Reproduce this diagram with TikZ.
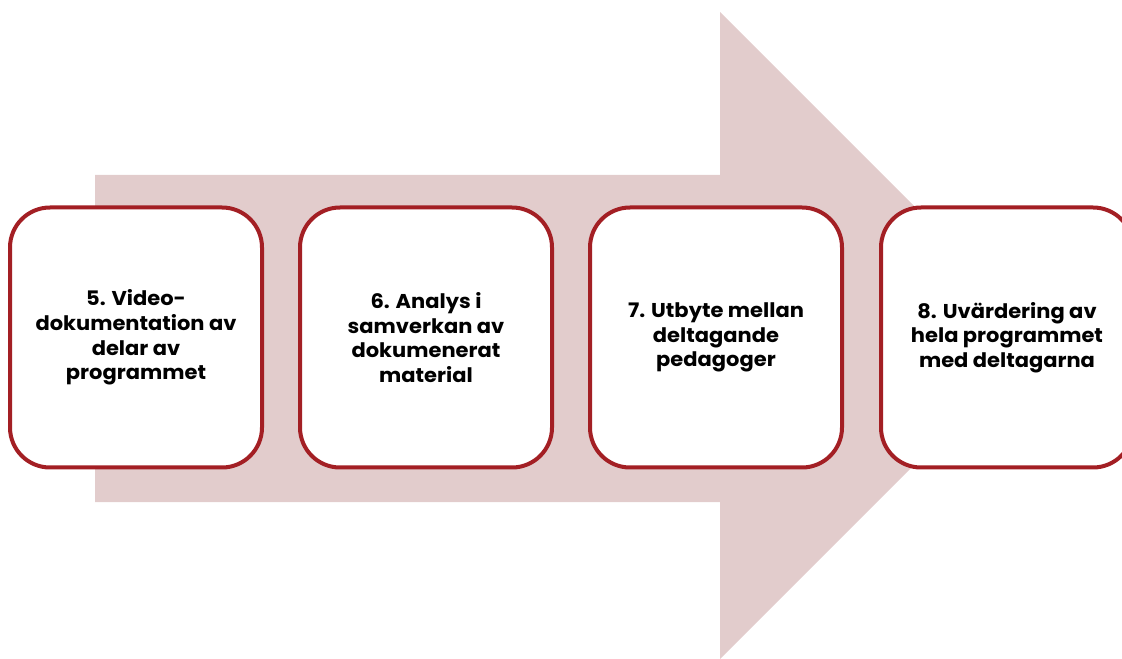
\documentclass[tikz,border=0pt]{standalone}
\usepackage{fontspec}
\setmainfont{Poppins}[FakeStretch=1.05]
\definecolor{arrowfill}{HTML}{E2CCCC}
\definecolor{boxline}{HTML}{A31F24}
\begin{document}
\begin{tikzpicture}[x=0.75pt,y=-0.75pt,
  stepbox/.style={draw=boxline, line width=3pt, fill=white, rounded corners=30pt,
    minimum width=189pt, minimum height=195pt, align=center,
    font=\bfseries\fontsize{15}{18.4}\selectfont, inner sep=0pt}]
\useasboundingbox (0,0) rectangle (1122,659);
\clip (0,0) rectangle (1122,659);
\fill[arrowfill] (95,175) -- (720,175) -- (720,12) -- (1043.5,335.5) -- (720,659) -- (720,502) -- (95,502) -- cycle;
\node[stepbox] (s5) at (136,337.5) {5. Video-\\dokumentation av\\delar av\\programmet};
\node[stepbox] (s6) at (426,337.5) {6. Analys i\\samverkan av\\dokumenerat\\material};
\node[stepbox] (s7) at (716,337.5) {7. Utbyte mellan\\deltagande\\pedagoger};
\node[stepbox] (s8) at (1007,337.5) {8. Uvärdering av\\hela programmet\\med deltagarna};
\end{tikzpicture}
\end{document}
